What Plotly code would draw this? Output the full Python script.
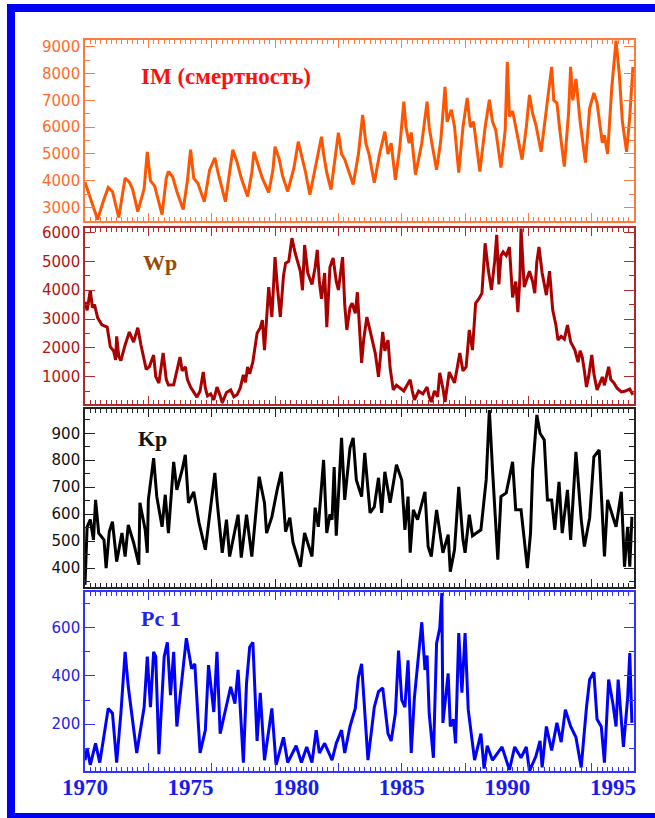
import plotly.graph_objects as go

# ---------------- data ----------------
im_year = [1970.0,1970.15,1970.3,1970.6,1970.85,1971.1,1971.3,1971.6,1971.9,1972.1,1972.25,1972.5,1972.8,1972.95,
           1973.1,1973.3,1973.65,1973.85,1973.95,1974.15,1974.35,1974.65,1974.85,1975.0,1975.15,1975.35,1975.65,
           1975.9,1976.15,1976.3,1976.65,1976.85,1977.0,1977.2,1977.4,1977.7,1977.9,1978.0,1978.2,1978.4,1978.7,
           1978.9,1979.0,1979.2,1979.35,1979.6,1979.9,1980.1,1980.3,1980.45,1980.65,1980.95,1981.2,1981.3,1981.45,
           1981.65,1981.85,1982.0,1982.15,1982.3,1982.7,1982.95,1983.15,1983.3,1983.45,1983.7,1983.95,1984.2,
           1984.35,1984.5,1984.7,1984.9,1985.1,1985.2,1985.35,1985.45,1985.65,1985.95,1986.2,1986.3,1986.45,
           1986.65,1986.85,1987.05,1987.15,1987.35,1987.5,1987.7,1987.9,1988.1,1988.25,1988.4,1988.7,1988.95,
           1989.15,1989.3,1989.45,1989.7,1989.9,1990.0,1990.1,1990.25,1990.45,1990.7,1990.9,1991.05,1991.2,
           1991.35,1991.6,1991.85,1992.1,1992.2,1992.35,1992.5,1992.7,1992.9,1993.0,1993.1,1993.25,1993.45,
           1993.7,1993.9,1994.1,1994.25,1994.5,1994.6,1994.75,1994.95,1995.15,1995.3,1995.45,1995.65,1995.8,1995.95]
im_value = [3950,3600,3300,2550,3200,3750,3600,2630,4100,3950,3700,2850,3700,5080,
            4000,3800,2740,4100,4350,4150,3600,2930,4000,5160,4100,3900,3220,
            4400,4860,4300,3220,4300,5160,4700,4100,3410,4300,5080,4600,4100,3560,
            4400,5270,4800,4200,3600,4500,5460,4800,4300,3480,4600,5640,5000,4300,
            3670,4800,5790,5000,4800,3860,5000,6460,5400,5000,3930,5000,5830,
            5000,5400,4040,5200,6950,6000,5400,5800,4230,5400,6950,6000,5300,
            4410,5500,7500,6200,6650,6020,4300,6000,7090,6000,6200,4340,6000,
            7020,6200,5900,4490,5900,8430,6400,6600,5800,4790,6000,7200,6500,
            6100,5080,6700,8250,7000,6900,5800,4530,6500,8250,7000,7800,6200,
            4680,6700,7280,6900,5420,5700,5000,7500,9230,8000,6200,5080,6400,8250]

wp_year = [1970.0,1970.1,1970.25,1970.35,1970.45,1970.6,1970.8,1971.05,1971.2,1971.35,1971.45,1971.5,1971.6,1971.7,
           1971.9,1972.1,1972.3,1972.5,1972.65,1972.8,1972.9,1973.05,1973.25,1973.35,1973.5,1973.7,1973.85,1973.95,
           1974.2,1974.35,1974.5,1974.6,1974.75,1974.85,1975.0,1975.3,1975.45,1975.6,1975.7,1975.8,1975.95,1976.1,
           1976.25,1976.4,1976.5,1976.7,1976.9,1977.05,1977.2,1977.35,1977.5,1977.6,1977.7,1977.8,1977.95,1978.15,
           1978.3,1978.4,1978.5,1978.6,1978.7,1978.85,1979.0,1979.1,1979.25,1979.4,1979.5,1979.65,1979.8,1979.95,
           1980.1,1980.2,1980.3,1980.4,1980.55,1980.75,1980.9,1981.0,1981.1,1981.2,1981.35,1981.45,1981.6,1981.75,
           1981.9,1982.0,1982.2,1982.3,1982.4,1982.55,1982.65,1982.8,1982.9,1983.1,1983.2,1983.35,1983.5,1983.6,
           1983.75,1983.9,1984.1,1984.2,1984.35,1984.45,1984.6,1984.75,1984.9,1985.1,1985.25,1985.4,1985.5,1985.6,
           1985.8,1986.0,1986.2,1986.3,1986.4,1986.55,1986.7,1986.8,1986.95,1987.05,1987.25,1987.4,1987.5,1987.65,
           1987.75,1987.9,1988.05,1988.2,1988.35,1988.5,1988.65,1988.8,1988.95,1989.1,1989.25,1989.4,1989.5,1989.6,
           1989.7,1989.8,1989.95,1990.1,1990.25,1990.4,1990.5,1990.6,1990.65,1990.8,1990.95,1991.05,1991.2,1991.3,
           1991.4,1991.5,1991.65,1991.85,1992.0,1992.15,1992.3,1992.4,1992.55,1992.7,1992.85,1993.0,1993.2,1993.35,
           1993.45,1993.55,1993.65,1993.75,1993.85,1994.0,1994.1,1994.25,1994.4,1994.5,1994.6,1994.8,1994.9,1995.05,
           1995.2,1995.4,1995.6,1995.8,1995.95]
wp_value = [3600,3300,4000,3400,3500,3040,2800,2720,2030,1900,1580,2400,1700,1560,
            2100,2550,2200,2700,2100,1580,1250,1350,1750,1000,780,1820,900,710,
            720,1200,1680,1200,1340,900,640,290,500,1160,600,330,400,190,
            640,350,90,450,540,300,370,600,1060,800,1340,1100,1510,2510,
            2700,2960,1920,3000,4110,3070,5150,4200,3070,4500,4940,5000,5810,5300,
            4900,4660,4000,5570,4600,4200,4800,5400,4300,3700,4600,2720,4800,5120,
            4300,4010,5150,3500,2620,3400,3550,3200,3930,1480,2300,3070,2600,2270,
            1800,990,2550,1900,2270,1300,540,700,610,500,700,890,500,190,
            500,400,640,300,120,500,300,1130,600,120,1160,900,780,1400,
            1820,1200,1340,2620,1920,3550,3700,3900,5630,4700,4010,5000,5920,4200,
            5200,5330,5200,5500,3750,4300,3240,4500,6150,4110,4400,4660,4300,3900,
            5000,5500,4600,3830,4660,3310,2800,2270,2400,2300,2790,2200,1920,1500,
            1900,1680,1200,640,1000,1750,1100,540,800,990,700,1340,900,780,
            600,470,500,570,370]

kp_year = [1970.0,1970.1,1970.25,1970.4,1970.5,1970.65,1970.9,1971.0,1971.15,1971.3,1971.5,1971.75,1971.9,1972.05,
           1972.3,1972.55,1972.6,1972.85,1972.95,1973.0,1973.25,1973.4,1973.65,1973.8,1973.95,1974.2,1974.35,1974.6,
           1974.75,1974.9,1975.15,1975.4,1975.7,1975.95,1976.15,1976.25,1976.5,1976.7,1976.85,1977.25,1977.4,1977.65,
           1977.9,1978.25,1978.5,1978.6,1978.85,1979.1,1979.3,1979.5,1979.7,1979.85,1980.2,1980.4,1980.75,1980.9,
           1981.05,1981.3,1981.45,1981.6,1981.7,1981.8,1981.9,1982.15,1982.3,1982.55,1982.7,1982.85,1983.1,1983.25,
           1983.5,1983.7,1983.9,1984.05,1984.2,1984.45,1984.75,1985.0,1985.15,1985.3,1985.4,1985.55,1985.75,1986.1,
           1986.25,1986.4,1986.65,1986.95,1987.2,1987.3,1987.5,1987.7,1987.9,1988.0,1988.2,1988.35,1988.75,1989.0,
           1989.15,1989.3,1989.55,1989.7,1989.95,1990.25,1990.4,1990.65,1990.95,1991.1,1991.2,1991.4,1991.55,1991.75,
           1991.9,1992.1,1992.25,1992.45,1992.6,1992.85,1993.0,1993.25,1993.5,1993.65,1993.9,1994.1,1994.35,1994.6,
           1994.75,1995.0,1995.15,1995.4,1995.55,1995.7,1995.8,1995.9]
kp_value = [338,553,580,505,653,530,505,400,535,572,424,530,443,560,
            495,413,642,542,457,653,808,665,553,672,530,794,690,764,
            820,642,683,568,468,627,753,653,457,580,443,598,439,598,
            443,739,642,530,590,690,757,535,587,495,405,530,443,624,
            553,801,530,600,580,775,520,883,653,846,883,727,665,827,
            605,627,735,605,757,642,783,727,542,665,457,616,580,683,
            480,443,616,457,524,387,468,701,505,457,598,520,542,727,
            986,764,431,665,679,794,616,616,400,530,764,968,900,875,
            653,653,542,720,530,690,505,831,580,480,587,813,838,443,
            653,590,553,683,405,553,405,590]

pc_year = [1970.0,1970.1,1970.25,1970.5,1970.7,1970.9,1971.1,1971.3,1971.5,1971.7,1971.9,1972.05,1972.45,1972.8,
           1972.95,1973.1,1973.25,1973.35,1973.5,1973.75,1973.9,1974.05,1974.2,1974.35,1974.6,1974.8,1975.05,1975.2,
           1975.45,1975.7,1975.85,1976.1,1976.25,1976.4,1976.9,1977.1,1977.25,1977.5,1977.65,1977.8,1977.95,1978.15,
           1978.3,1978.5,1978.85,1979.05,1979.4,1979.6,1980.0,1980.25,1980.5,1980.75,1980.95,1981.1,1981.35,1981.7,
           1981.9,1982.15,1982.3,1982.55,1982.8,1982.95,1983.1,1983.25,1983.4,1983.7,1983.9,1984.1,1984.35,1984.5,
           1984.7,1984.85,1985.0,1985.15,1985.3,1985.45,1985.6,1985.75,1985.95,1986.1,1986.2,1986.3,1986.5,1986.65,
           1986.8,1986.9,1986.95,1987.2,1987.3,1987.45,1987.55,1987.7,1987.85,1988.0,1988.15,1988.45,1988.75,1988.9,
           1989.05,1989.3,1989.75,1990.1,1990.35,1990.65,1990.9,1991.05,1991.35,1991.55,1991.65,1991.85,1992.1,
           1992.35,1992.55,1992.75,1993.0,1993.25,1993.5,1993.75,1993.9,1994.1,1994.25,1994.45,1994.6,1994.8,1995.0,
           1995.15,1995.25,1995.5,1995.7,1995.8,1995.9]
pc_value = [50,100,30,120,40,145,265,245,40,245,500,355,80,270,
            480,270,500,480,75,480,540,320,500,190,385,557,430,450,
            80,175,445,250,500,160,355,285,425,40,370,520,540,130,
            330,50,265,30,145,40,110,40,105,40,175,80,120,50,
            120,175,80,190,265,395,450,270,50,270,335,350,160,130,
            245,505,300,270,465,80,310,445,623,425,485,245,60,535,
            598,745,205,410,190,220,120,578,330,578,260,50,160,15,
            110,50,105,10,105,60,105,5,65,130,20,190,90,
            205,125,260,190,145,20,270,385,415,220,190,40,385,285,
            190,385,105,310,495,205]

year_ticks = [1970, 1975, 1980, 1985, 1990, 1995]
year_labels = ["1970", "1975", "1980", "1985", "1990", "1995"]

panel_titles = ["IM (смертность)", "Wp", "Kp", "Pc 1"]

# ---------------- styling ----------------
W, H = 655, 818
ML, MR, MT, MB = 85, 21, 40, 47
PW, PH = W - ML - MR, H - MT - MB


def px_x(p):
    return (p - ML) / PW


def px_y(p):
    return (H - MB - p) / PH


line_cols = ["#FF5500", "#AA0000", "#000000", "#0000FF"]
axis_cols = ["#FF7A3D", "#B5282A", "#222222", "#3333FF"]
label_cols = ["#FF6A2A", "#B01515", "#111111", "#2222EE"]
title_cols = ["#FF1010", "#9A4A05", "#111111", "#2222EE"]

domains = [[px_y(221), 1.0], [px_y(404), px_y(228.3)], [px_y(587), px_y(409)], [0.0, px_y(591.7)]]
yranges = [[2500, 9250], [50, 6150], [330, 990], [5, 750]]
ydticks = [1000, 1000, 100, 200]
yminors = [500, 500, 50, 100]

series = [(im_year, im_value), (wp_year, wp_value), (kp_year, kp_value), (pc_year, pc_value)]

fig = go.Figure()
for i, (xs, ys) in enumerate(series):
    n = "" if i == 0 else str(i + 1)
    fig.add_trace(go.Scatter(x=xs, y=ys, mode="lines", xaxis="x" + n, yaxis="y" + n,
                             line=dict(color=line_cols[i], width=3), showlegend=False,
                             hoverinfo="skip"))

# dummy trace for the year-label axis
fig.add_trace(go.Scatter(x=[1970, 1996], y=[None, None], xaxis="x5", yaxis="y4",
                         mode="lines", showlegend=False, hoverinfo="skip"))

layout = dict(width=W, height=H, margin=dict(l=ML, r=MR, t=MT, b=MB),
              paper_bgcolor="white", plot_bgcolor="white", showlegend=False)

for i in range(4):
    n = "" if i == 0 else str(i + 1)
    layout["xaxis" + n] = dict(
        domain=[0, 1], anchor="y" + n, range=[1970, 1996], showgrid=False, zeroline=False,
        showline=True, linecolor=axis_cols[i], linewidth=1.6, mirror="ticks",
        ticks="inside", tick0=1970, dtick=3, ticklen=8, tickwidth=1.3, tickcolor=axis_cols[i],
        showticklabels=False,
        minor=dict(ticks="inside", dtick=0.25, tick0=1970, ticklen=4, tickwidth=1, tickcolor=axis_cols[i]),
    )
    layout["yaxis" + n] = dict(
        domain=domains[i], anchor="x" + n, range=yranges[i], showgrid=False, zeroline=False,
        showline=True, linecolor=axis_cols[i], linewidth=1.6, mirror="ticks",
        ticks="inside", tick0=0, dtick=ydticks[i], ticklen=10, tickwidth=1.3, tickcolor=axis_cols[i],
        tickfont=dict(family="DejaVu Sans", size=15, color=label_cols[i]), tickformat="d",
        minor=dict(ticks="inside", dtick=yminors[i], tick0=0, ticklen=5, tickwidth=1, tickcolor=axis_cols[i]),
    )

layout["xaxis5"] = dict(
    overlaying="x4", anchor="y4", side="bottom", range=[1970, 1996], showgrid=False, zeroline=False,
    showline=False, ticks="", tickvals=year_ticks, ticktext=year_labels, ticklabelstandoff=0,
    tickfont=dict(family="Liberation Serif", size=23, color="#1A1AF0", weight="bold"),
)

title_pos = [(226, 76), (160, 262), (152, 438), (161, 618)]
title_sizes = [23, 22, 22, 22]
annotations = []
for i, t in enumerate(panel_titles):
    annotations.append(dict(text=t, xref="paper", yref="paper",
                            x=px_x(title_pos[i][0]), y=px_y(title_pos[i][1]),
                            xanchor="center", yanchor="middle", showarrow=False,
                            font=dict(family="Liberation Serif", size=title_sizes[i],
                                      color=title_cols[i], weight="bold")))
layout["annotations"] = annotations

layout["shapes"] = [dict(type="rect", xref="paper", yref="paper",
                         x0=px_x(11), x1=px_x(663), y0=px_y(817), y1=px_y(8),
                         line=dict(color="#0000F5", width=8), fillcolor="rgba(0,0,0,0)", layer="above")]

fig.update_layout(**layout)
fig.write_html("out.html")
